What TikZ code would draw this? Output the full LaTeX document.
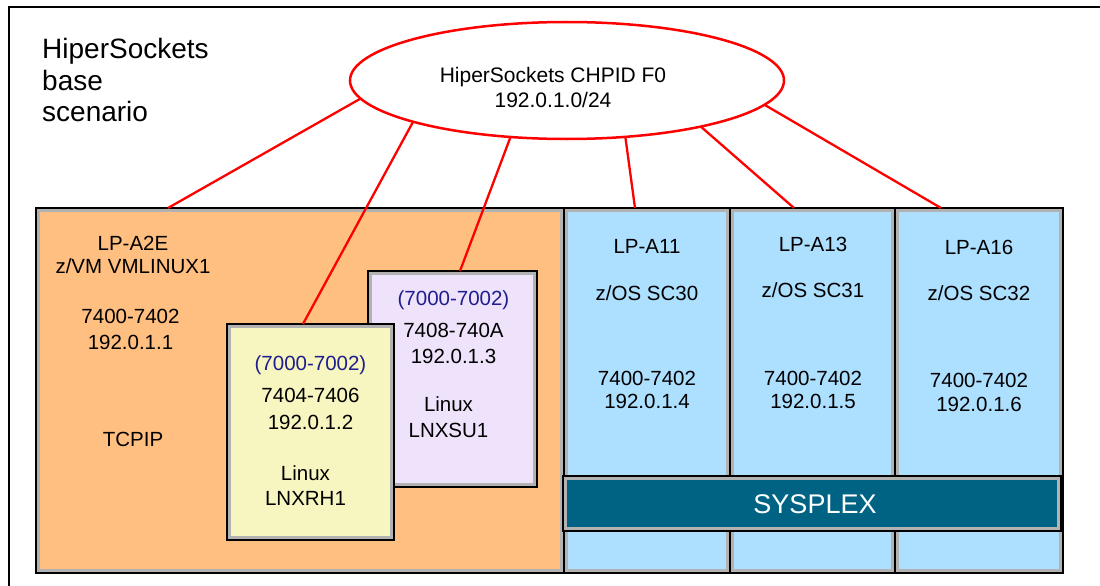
\documentclass[tikz,border=0pt]{standalone}
\usepackage{fontspec}
\setmainfont{Liberation Sans}
\usetikzlibrary{shapes.geometric}
\definecolor{lporange}{RGB}{255,191,128}
\definecolor{lpblue}{RGB}{173,223,255}
\definecolor{lpyellow}{RGB}{248,246,192}
\definecolor{lppurple}{RGB}{239,227,251}
\definecolor{plexteal}{RGB}{0,99,132}
\definecolor{framegray}{RGB}{178,178,178}
\definecolor{devnavy}{RGB}{30,30,140}
\definecolor{linkred}{RGB}{255,0,0}
\begin{document}
\begin{tikzpicture}[x=1pt,y=-1pt,
  lpbox/.style={draw=black, line width=2pt, inner sep=0pt, outer sep=0pt, anchor=north west},
  grayframe/.style={draw=framegray, line width=3pt},
  lbl/.style={anchor=base, inner sep=0pt, font=\fontsize{20.5}{24}\selectfont},
  devlbl/.style={lbl, text=devnavy},
  titlelbl/.style={anchor=base west, inner sep=0pt, font=\fontsize{28}{31}\selectfont},
  ellbl/.style={anchor=base, inner sep=0pt, font=\fontsize{21}{25}\selectfont},
  plexlbl/.style={anchor=base, inner sep=0pt, text=white, font=\fontsize{27}{30}\selectfont},
  redlink/.style={draw=linkred, line width=2.3pt}
]
\useasboundingbox (0,0) rectangle (1100,586);

% outer frame
\draw[line width=1.5pt] (9,586) -- (9,7) -- (1100,7);

% LPAR boxes
\node[lpbox, fill=lporange, minimum width=528pt, minimum height=365pt] (a2e) at (36,208) {};
\draw[grayframe] ([shift={(2.5,2.5)}]a2e.north west) rectangle ([shift={(-2.5,-2.5)}]a2e.south east);
\node[lpbox, fill=lpblue, minimum width=166pt, minimum height=365pt] (a11) at (564,208) {};
\draw[grayframe] ([shift={(2.5,2.5)}]a11.north west) rectangle ([shift={(-2.5,-2.5)}]a11.south east);
\node[lpbox, fill=lpblue, minimum width=165pt, minimum height=365pt] (a13) at (730,208) {};
\draw[grayframe] ([shift={(2.5,2.5)}]a13.north west) rectangle ([shift={(-2.5,-2.5)}]a13.south east);
\node[lpbox, fill=lpblue, minimum width=168pt, minimum height=365pt] (a16) at (895,208) {};
\draw[grayframe] ([shift={(2.5,2.5)}]a16.north west) rectangle ([shift={(-2.5,-2.5)}]a16.south east);

% sysplex bar
\node[lpbox, fill=plexteal, minimum width=498pt, minimum height=55pt] (plex) at (563,476) {};
\draw[grayframe] ([shift={(2.5,2.5)}]plex.north west) rectangle ([shift={(-2.5,-2.5)}]plex.south east);
\node[plexlbl] (plext) at (815,513) {SYSPLEX};

% Linux guests
\node[lpbox, fill=lppurple, minimum width=169pt, minimum height=216pt] (su1) at (368,271) {};
\draw[grayframe] ([shift={(2.5,2.5)}]su1.north west) rectangle ([shift={(-2.5,-2.5)}]su1.south east);
\node[lpbox, fill=lpyellow, minimum width=167pt, minimum height=216pt] (rh1) at (227,324) {};
\draw[grayframe] ([shift={(2.5,2.5)}]rh1.north west) rectangle ([shift={(-2.5,-2.5)}]rh1.south east);

% title
\node[titlelbl] (ti1) at (42,59) {HiperSockets};
\node[titlelbl] (ti2) at (42,90) {base};
\node[titlelbl] (ti3) at (42,121) {scenario};

% LP-A2E texts
\node[lbl] (o1) at (133,250) {LP-A2E};
\node[lbl] (o2) at (133,273) {z/VM VMLINUX1};
\node[lbl] (o3) at (130.5,323) {7400-7402};
\node[lbl] (o4) at (130.5,349) {192.0.1.1};
\node[lbl] (o5) at (133,446) {TCPIP};

% LNXRH1 texts
\node[devlbl] (y1) at (310.5,370) {(7000-7002)};
\node[lbl] (y2) at (310.5,402) {7404-7406};
\node[lbl] (y3) at (310.5,429) {192.0.1.2};
\node[lbl] (y4) at (305.5,480) {Linux};
\node[lbl] (y5) at (305.5,505) {LNXRH1};

% LNXSU1 texts
\node[devlbl] (p1) at (453.5,305) {(7000-7002)};
\node[lbl] (p2) at (453.5,337.5) {7408-740A};
\node[lbl] (p3) at (453.5,363) {192.0.1.3};
\node[lbl] (p4) at (448.5,411.5) {Linux};
\node[lbl] (p5) at (448.5,437) {LNXSU1};

% z/OS texts
\node[lbl] (b11) at (647,253) {LP-A11};
\node[lbl] (b12) at (647,300) {z/OS SC30};
\node[lbl] (b13) at (647,385) {7400-7402};
\node[lbl] (b14) at (647,408) {192.0.1.4};
\node[lbl] (b21) at (813,251) {LP-A13};
\node[lbl] (b22) at (813,297) {z/OS SC31};
\node[lbl] (b23) at (813,385) {7400-7402};
\node[lbl] (b24) at (813,408) {192.0.1.5};
\node[lbl] (b31) at (979,254) {LP-A16};
\node[lbl] (b32) at (979,300) {z/OS SC32};
\node[lbl] (b33) at (979,387.5) {7400-7402};
\node[lbl] (b34) at (979,411) {192.0.1.6};

% HiperSockets ellipse
\node[ellipse, draw=linkred, line width=2.5pt, minimum width=434pt, minimum height=117pt, inner sep=0pt, outer sep=0pt] (ell) at (567,80.5) {};
\node[ellbl] (e1) at (553,82) {HiperSockets CHPID F0};
\node[ellbl] (e2) at (553,107) {192.0.1.0/24};

% connectors
\draw[redlink] (ell.185.4) -- ([xshift=132pt]a2e.north west);
\draw[redlink] (ell.195.9) -- ([xshift=76pt]rh1.north west);
\draw[redlink] (ell.225.8) -- ([xshift=92pt]su1.north west);
\draw[redlink] (ell.316.2) -- ([xshift=71pt]a11.north west);
\draw[redlink] (ell.341.3) -- ([xshift=64pt]a13.north west);
\draw[redlink] (ell.353) -- ([xshift=46pt]a16.north west);
\end{tikzpicture}
\end{document}
